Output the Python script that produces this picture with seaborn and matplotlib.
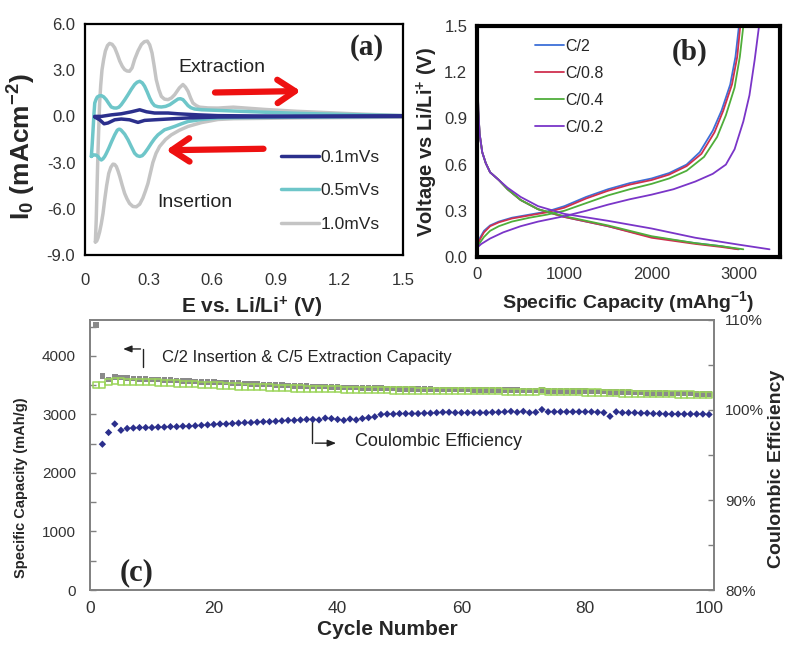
import numpy as np
import pandas as pd
import matplotlib
matplotlib.use('Agg')
import matplotlib.pyplot as plt
import seaborn as sns

sns.set_style('white')
plt.rcParams['font.family'] = ['Liberation Sans', 'DejaVu Sans']
plt.rcParams['mathtext.default'] = 'regular'

# ---------------- panel (a): cyclic voltammetry ----------------
scan_rates = ['0.1mVs', '0.5mVs', '1.0mVs']
cv_colors = ['#2b2f8c', '#6ec6c9', '#c4c4c4']

# extraction (upper) branches then insertion (lower) branches, E in V, I in mA/cm2
e_up_01 = [0.046, 0.077, 0.124, 0.171, 0.219, 0.258, 0.29, 0.328, 0.392, 0.439, 0.534, 0.627, 0.8, 1.0, 1.5]
i_up_01 = [0.0, 0.0, 0.1, 0.17, 0.3, 0.43, 0.3, 0.22, 0.22, 0.17, 0.1, 0.05, 0.03, 0.02, 0.02]
e_lo_01 = [1.5, 1.0, 0.627, 0.486, 0.392, 0.328, 0.281, 0.25, 0.21, 0.171, 0.14, 0.108, 0.09, 0.069, 0.046]
i_lo_01 = [0.0, -0.02, -0.04, -0.1, -0.17, -0.22, -0.26, -0.39, -0.22, -0.17, -0.22, -0.43, -0.48, -0.22, -0.04]

e_up_05 = [0.03, 0.034, 0.038, 0.042, 0.046, 0.052, 0.058, 0.067, 0.077, 0.088, 0.1, 0.112, 0.124, 0.136,
           0.148, 0.16, 0.171, 0.187, 0.203, 0.218, 0.234, 0.246, 0.258, 0.27, 0.281, 0.293, 0.305, 0.316,
           0.328, 0.344, 0.36, 0.38, 0.4, 0.425, 0.439, 0.45, 0.462, 0.474, 0.486, 0.5, 0.517, 0.55,
           0.627, 0.7, 0.85, 1.0, 1.25, 1.5]
i_up_05 = [-2.6, -1.8, -0.87, 0.1, 0.87, 1.1, 1.26, 1.33, 1.35, 1.27, 1.09, 0.84, 0.61, 0.55,
           0.54, 0.6, 0.76, 1.07, 1.41, 1.75, 2.07, 2.22, 2.28, 2.18, 1.96, 1.6, 1.2, 0.9,
           0.7, 0.63, 0.61, 0.65, 0.76, 1.0, 1.13, 1.15, 1.09, 0.9, 0.7, 0.56, 0.48, 0.43,
           0.39, 0.35, 0.27, 0.2, 0.12, 0.05]
e_lo_05 = [1.5, 1.0, 0.7, 0.627, 0.55, 0.486, 0.455, 0.423, 0.4, 0.375, 0.344, 0.328, 0.313, 0.297,
           0.281, 0.27, 0.258, 0.246, 0.234, 0.218, 0.203, 0.187, 0.171, 0.165, 0.16, 0.152, 0.14,
           0.126, 0.112, 0.1, 0.093, 0.085, 0.077, 0.069, 0.061, 0.053, 0.046, 0.038, 0.03]
i_lo_05 = [0.0, -0.05, -0.08, -0.1, -0.2, -0.33, -0.48, -0.65, -0.76, -0.87, -1.2, -1.45, -1.74, -2.08,
           -2.39, -2.55, -2.6, -2.55, -2.39, -1.95, -1.52, -1.15, -0.9, -0.84, -0.83, -0.9, -1.2,
           -1.62, -2.07, -2.42, -2.6, -2.75, -2.83, -2.75, -2.6, -2.52, -2.5, -2.52, -2.6]

e_up_10 = [0.049, 0.053, 0.057, 0.061, 0.065, 0.069, 0.074, 0.08, 0.088, 0.096, 0.106, 0.116, 0.128, 0.14,
           0.152, 0.164, 0.176, 0.187, 0.198, 0.21, 0.222, 0.234, 0.25, 0.266, 0.28, 0.294, 0.305, 0.316,
           0.326, 0.336, 0.348, 0.36, 0.375, 0.392, 0.408, 0.423, 0.445, 0.462, 0.474, 0.486, 0.498,
           0.509, 0.525, 0.54, 0.58, 0.627, 0.7, 0.85, 1.0, 1.25, 1.5]
i_up_10 = [-8.15, -6.7, -4.5, -2.4, -0.7, 0.87, 2.0, 3.0, 3.7, 4.24, 4.6, 4.74, 4.68, 4.46,
           4.05, 3.59, 3.25, 3.04, 2.95, 2.93, 3.15, 3.7, 4.25, 4.67, 4.85, 4.89, 4.65, 4.13,
           3.3, 2.39, 1.75, 1.3, 1.12, 1.09, 1.2, 1.41, 1.85, 2.07, 1.9, 1.63, 1.2,
           0.87, 0.7, 0.6, 0.55, 0.54, 0.6, 0.45, 0.33, 0.18, 0.05]
e_lo_10 = [1.5, 1.0, 0.7, 0.627, 0.55, 0.486, 0.445, 0.407, 0.38, 0.352, 0.335, 0.32, 0.308, 0.297,
           0.285, 0.273, 0.258, 0.242, 0.226, 0.21, 0.198, 0.187, 0.175, 0.164, 0.156, 0.148, 0.14,
           0.132, 0.122, 0.112, 0.102, 0.093, 0.085, 0.077, 0.069, 0.061, 0.055, 0.049]
i_lo_10 = [-0.05, -0.1, -0.15, -0.2, -0.4, -0.65, -0.9, -1.2, -1.5, -1.95, -2.4, -3.0, -3.7, -4.35,
           -4.85, -5.3, -5.7, -5.87, -5.85, -5.65, -5.35, -5.0, -4.45, -3.9, -3.55, -3.26, -3.12,
           -3.1, -3.3, -3.7, -4.5, -5.4, -6.3, -6.96, -7.5, -7.9, -8.1, -8.15]

# ---------------- panel (b): charge / discharge ----------------
rates = ['C/2', 'C/0.8', 'C/0.4', 'C/0.2']
rate_colors = ['#3d6fd8', '#d0304f', '#4fae3a', '#7a35c8']

dis_cap = [[0, 5, 15, 30, 60, 100, 150, 250, 350, 500, 700, 1000, 1500, 2000, 2500, 2800, 3000],
           [0, 5, 15, 30, 60, 100, 150, 250, 350, 500, 700, 1000, 1500, 2000, 2500, 2800, 2990],
           [0, 5, 15, 30, 60, 100, 150, 250, 350, 500, 700, 1000, 1500, 2000, 2500, 2800, 3050],
           [0, 5, 15, 30, 60, 100, 150, 250, 350, 500, 700, 1000, 1500, 2000, 2500, 3000, 3350]]
dis_v = [[1.5, 1.2, 0.95, 0.8, 0.68, 0.61, 0.55, 0.5, 0.44, 0.37, 0.31, 0.26, 0.2, 0.13, 0.09, 0.07, 0.05],
         [1.5, 1.2, 0.95, 0.8, 0.68, 0.61, 0.55, 0.5, 0.44, 0.37, 0.31, 0.26, 0.2, 0.125, 0.085, 0.065, 0.05],
         [1.5, 1.2, 0.95, 0.8, 0.68, 0.61, 0.55, 0.5, 0.44, 0.37, 0.31, 0.265, 0.205, 0.135, 0.09, 0.07, 0.05],
         [1.5, 1.2, 0.95, 0.8, 0.68, 0.61, 0.55, 0.5, 0.45, 0.39, 0.33, 0.28, 0.235, 0.185, 0.125, 0.08, 0.05]]
chg_cap = [[0, 30, 80, 150, 250, 400, 600, 800, 1000, 1250, 1500, 1750, 2000, 2200, 2400, 2550, 2700, 2800, 2900, 2960, 3000],
           [0, 30, 80, 150, 250, 400, 600, 800, 1000, 1250, 1500, 1750, 2000, 2200, 2400, 2570, 2720, 2820, 2920, 2980, 3015],
           [0, 30, 80, 150, 250, 400, 600, 800, 1000, 1250, 1500, 1750, 2000, 2200, 2400, 2600, 2750, 2850, 2950, 3010, 3050],
           [0, 50, 150, 300, 500, 700, 1000, 1250, 1500, 1750, 2000, 2250, 2500, 2700, 2850, 2950, 3050, 3120, 3180, 3230]]
chg_v = [[0.06, 0.12, 0.17, 0.205, 0.23, 0.255, 0.275, 0.295, 0.33, 0.39, 0.44, 0.48, 0.51, 0.545, 0.6, 0.68, 0.82, 0.95, 1.12, 1.3, 1.5],
         [0.06, 0.11, 0.16, 0.2, 0.225, 0.25, 0.27, 0.29, 0.32, 0.38, 0.43, 0.47, 0.5, 0.535, 0.59, 0.67, 0.81, 0.95, 1.12, 1.3, 1.5],
         [0.06, 0.09, 0.13, 0.17, 0.2, 0.23, 0.255, 0.275, 0.3, 0.35, 0.4, 0.44, 0.475, 0.51, 0.56, 0.65, 0.78, 0.92, 1.1, 1.3, 1.5],
         [0.06, 0.085, 0.12, 0.16, 0.2, 0.23, 0.265, 0.3, 0.34, 0.375, 0.405, 0.44, 0.49, 0.54, 0.6, 0.7, 0.88, 1.05, 1.28, 1.5]]

# ---------------- panel (c): cycling ----------------
cycles = list(range(1, 101))
insertion_cap = [4530, 3660, 3600, 3640, 3630, 3620, 3615, 3610, 3605, 3600,
                 3595, 3590, 3585, 3580, 3575, 3570, 3565, 3560, 3560, 3555,
                 3550, 3545, 3540, 3535, 3530, 3525, 3520, 3515, 3510, 3505,
                 3500, 3495, 3490, 3490, 3485, 3480, 3480, 3475, 3470, 3470,
                 3465, 3460, 3460, 3455, 3455, 3450, 3450, 3445, 3445, 3440,
                 3440, 3440, 3435, 3435, 3435, 3430, 3430, 3430, 3425, 3425,
                 3425, 3420, 3420, 3420, 3420, 3415, 3415, 3415, 3415, 3410,
                 3410, 3410, 3420, 3405, 3405, 3405, 3400, 3400, 3400, 3400,
                 3395, 3395, 3390, 3385, 3385, 3380, 3380, 3375, 3375, 3370,
                 3370, 3365, 3365, 3360, 3360, 3355, 3355, 3350, 3350, 3350]
extraction_cap = [3500, 3500, 3560, 3570, 3565, 3560, 3560, 3555, 3555, 3550,
                  3545, 3540, 3535, 3530, 3525, 3520, 3515, 3510, 3505, 3500,
                  3495, 3490, 3485, 3480, 3475, 3470, 3465, 3465, 3460, 3455,
                  3455, 3450, 3445, 3445, 3440, 3440, 3435, 3435, 3430, 3430,
                  3425, 3425, 3420, 3420, 3420, 3415, 3415, 3415, 3410, 3410,
                  3410, 3410, 3405, 3405, 3405, 3405, 3400, 3400, 3400, 3400,
                  3400, 3395, 3395, 3395, 3395, 3395, 3390, 3390, 3390, 3390,
                  3390, 3385, 3395, 3385, 3385, 3380, 3380, 3380, 3380, 3375,
                  3375, 3375, 3370, 3365, 3365, 3360, 3360, 3355, 3355, 3355,
                  3350, 3350, 3345, 3345, 3340, 3340, 3340, 3335, 3335, 3335]
ce_cycles = list(range(2, 101))
efficiency = [96.2, 97.5, 98.45, 97.75, 97.95, 98.0, 98.05, 98.05, 98.05,
              98.1, 98.1, 98.15, 98.15, 98.2, 98.2, 98.25, 98.3, 98.35, 98.4,
              98.45, 98.45, 98.5, 98.55, 98.6, 98.6, 98.65, 98.7, 98.7, 98.75,
              98.8, 98.85, 98.85, 98.9, 98.95, 98.95, 98.9, 99.1, 99.05, 98.95,
              98.85, 99.0, 98.9, 99.05, 99.15, 99.25, 99.5, 99.55, 99.55, 99.6,
              99.6, 99.6, 99.6, 99.65, 99.65, 99.7, 99.75, 99.75, 99.7, 99.7,
              99.7, 99.7, 99.7, 99.7, 99.75, 99.75, 99.8, 99.85, 99.75, 99.85,
              99.7, 99.75, 100.05, 99.8, 99.8, 99.8, 99.8, 99.8, 99.8, 99.8,
              99.8, 99.75, 99.7, 99.3, 99.8, 99.7, 99.7, 99.7, 99.65, 99.65,
              99.6, 99.6, 99.55, 99.55, 99.55, 99.55, 99.55, 99.55, 99.55, 99.5]

W, H = 790, 647
fig = plt.figure(figsize=(W / 100, H / 100), dpi=100)


def box(l, t, r, b):
    return [l / W, 1 - b / H, (r - l) / W, (b - t) / H]


tick_col = '#333333'
arrow_red = '->,head_length=0.9,head_width=0.6'

# ---- (a)
ax1 = fig.add_axes(box(85, 24, 403, 255))
cv = [(e_up_01, i_up_01, e_lo_01, i_lo_01),
      (e_up_05, i_up_05, e_lo_05, i_lo_05),
      (e_up_10, i_up_10, e_lo_10, i_lo_10)]
for k in [2, 1, 0]:
    eu, iu, el, il = cv[k]
    df = pd.DataFrame({'E': eu + el, 'I': iu + il})
    sns.lineplot(data=df, x='E', y='I', sort=False, estimator=None, color=cv_colors[k],
                 lw=2.5, ax=ax1, label=scan_rates[k])
for ln in ax1.lines:
    ln.set_solid_joinstyle('round')
h, l = ax1.get_legend_handles_labels()
ax1.legend(h[::-1], l[::-1], loc='upper left', bbox_to_anchor=(0.615, 0.455), frameon=False,
           fontsize=12.5, handlelength=2.2, handletextpad=0.1, labelspacing=1.05,
           borderpad=0, borderaxespad=0)
ax1.set_xlim(0, 1.5)
ax1.set_ylim(-9, 6)
ax1.set_xticks([0, 0.3, 0.6, 0.9, 1.2, 1.5])
ax1.set_xticklabels(['0', '0.3', '0.6', '0.9', '1.2', '1.5'])
ax1.set_yticks([6, 3, 0, -3, -6, -9])
ax1.set_yticklabels(['6.0', '3.0', '0.0', '-3.0', '-6.0', '-9.0'])
ax1.tick_params(axis='x', direction='in', length=5, width=1.2, labelsize=12, labelcolor=tick_col, pad=13)
ax1.tick_params(axis='y', direction='inout', length=8, width=1.2, labelsize=12, labelcolor=tick_col, pad=3)
for s in ax1.spines.values():
    s.set_color('black')
    s.set_linewidth(1.6)
ax1.set_xlabel('E vs. Li/Li$^{+}$ (V)', fontsize=15, fontweight='bold', labelpad=0)
ax1.xaxis.set_label_coords(0.525, -0.17)
ax1.set_ylabel('I$_0$ (mAcm$^{-2}$)', fontsize=19, fontweight='bold')
ax1.yaxis.set_label_coords(-0.148, 0.47)
ax1.text(0.44, 3.15, 'Extraction', fontsize=14, va='center', color='#222222')
ax1.text(0.34, -5.6, 'Insertion', fontsize=14, va='center', color='#222222')
ax1.annotate('', xy=(1.03, 1.65), xytext=(0.6, 1.55),
             arrowprops=dict(arrowstyle=arrow_red, color='#ee1111', lw=4.5, capstyle='round',
                             mutation_scale=14))
ax1.annotate('', xy=(0.37, -2.2), xytext=(0.855, -2.1),
             arrowprops=dict(arrowstyle=arrow_red, color='#ee1111', lw=4.5, capstyle='round',
                             mutation_scale=14))
ax1.text(1.33, 4.45, '(a)', fontsize=21, fontweight='bold', family='Liberation Serif',
         ha='center', va='center')

# ---- (b)
ax2 = fig.add_axes(box(477, 26, 780, 257))
for k in range(4):
    dfd = pd.DataFrame({'cap': dis_cap[k], 'V': dis_v[k]})
    dfc = pd.DataFrame({'cap': chg_cap[k], 'V': chg_v[k]})
    sns.lineplot(data=dfd, x='cap', y='V', sort=False, estimator=None, color=rate_colors[k],
                 lw=1.3, ax=ax2, label=rates[k])
    sns.lineplot(data=dfc, x='cap', y='V', sort=False, estimator=None, color=rate_colors[k],
                 lw=1.3, ax=ax2)
ax2.legend(loc='upper left', bbox_to_anchor=(0.19, 0.945), frameon=False, fontsize=11.5,
           handlelength=1.85, handletextpad=0.05, labelspacing=0.75, borderpad=0, borderaxespad=0)
ax2.set_xlim(0, 3470)
ax2.set_ylim(0, 1.5)
ax2.set_xticks([0, 1000, 2000, 3000])
ax2.set_yticks([0, 0.3, 0.6, 0.9, 1.2, 1.5])
ax2.set_yticklabels(['0.0', '0.3', '0.6', '0.9', '1.2', '1.5'])
ax2.tick_params(direction='in', length=0, labelsize=12, labelcolor=tick_col, pad=7)
for s in ax2.spines.values():
    s.set_color('black')
    s.set_linewidth(3)
ax2.set_xlabel('Specific Capacity (mAhg$^{-1}$)', fontsize=14, fontweight='bold', labelpad=5)
ax2.set_ylabel('Voltage vs Li/Li$^{+}$ (V)', fontsize=14.5, fontweight='bold', labelpad=3)
ax2.text(2440, 1.33, '(b)', fontsize=21, fontweight='bold', family='Liberation Serif',
         ha='center', va='center')

# ---- (c)
ax3 = fig.add_axes(box(90, 320, 714, 590))
cap_df = pd.DataFrame({'cycle': cycles, 'ins': insertion_cap, 'ext': extraction_cap})
sns.scatterplot(data=cap_df, x='cycle', y='ins', marker='s', s=16, color='#8a8a8a',
                edgecolor='none', ax=ax3, zorder=3)
sns.scatterplot(data=cap_df, x='cycle', y='ext', marker='s', s=20, facecolor='none',
                edgecolor='#9bd45a', linewidth=1.1, ax=ax3, zorder=4)
ax3.set_xlim(0, 100.8)
ax3.set_ylim(0, 4615)
ax3.set_yticks(np.arange(0, 4501, 500))
ax3.set_yticklabels(['0', '', '1000', '', '2000', '', '3000', '', '4000', ''])
ax3.set_xticks([0, 20, 40, 60, 80, 100])
ax3.tick_params(axis='x', direction='in', length=4, width=1, color='#808080', labelsize=12.5,
                labelcolor=tick_col, pad=8)
ax3.tick_params(axis='y', direction='in', length=4, width=1, color='#808080', labelsize=11,
                labelcolor=tick_col, pad=10)
for s in ax3.spines.values():
    s.set_color('#808080')
    s.set_linewidth(1.2)
ax3.set_xlabel('Cycle Number', fontsize=15, fontweight='bold')
ax3.xaxis.set_label_coords(0.476, -0.11)
ax3.set_ylabel('Specific Capacity (mAh/g)', fontsize=10.5, fontweight='bold')
ax3.yaxis.set_label_coords(-0.1, 0.38)

ax4 = ax3.twinx()
ce_df = pd.DataFrame({'cycle': ce_cycles, 'ce': efficiency})
sns.scatterplot(data=ce_df, x='cycle', y='ce', marker='D', s=14, color='#2b2f8c',
                edgecolor='none', ax=ax4, zorder=3)
ax4.set_ylim(80, 109.8)
ax4.set_yticks([80, 85, 90, 95, 100, 105, 110])
ax4.set_yticklabels(['80%', '', '90%', '', '100%', '', '110%'])
ax4.tick_params(axis='y', direction='in', length=4, width=1, color='#808080', labelsize=11,
                labelcolor=tick_col, pad=8)
ax4.set_ylabel('Coulombic Efficiency', fontsize=14, fontweight='bold')
ax4.yaxis.set_label_coords(1.086, 0.45)
for s in ax4.spines.values():
    s.set_color('#808080')
    s.set_linewidth(1.2)

# annotations with bracket arrows
ax3.text(11.6, 3980, 'C/2 Insertion & C/5 Extraction Capacity', fontsize=12, va='center',
         color='#222222')
ax3.plot([8.6, 8.6], [3810, 4120], color='#222222', lw=1)
ax3.annotate('', xy=(4.9, 4120), xytext=(8.6, 4120),
             arrowprops=dict(arrowstyle='-|>,head_length=0.5,head_width=0.2', color='#222222', lw=1))
ax3.text(42.8, 2530, 'Coulombic Efficiency', fontsize=13, va='center', color='#222222')
ax3.plot([35.9, 35.9], [2920, 2510], color='#222222', lw=1)
ax3.annotate('', xy=(40.2, 2510), xytext=(35.9, 2510),
             arrowprops=dict(arrowstyle='-|>,head_length=0.5,head_width=0.2', color='#222222', lw=1))
ax3.text(7.5, 290, '(c)', fontsize=22, fontweight='bold', family='Liberation Serif',
         ha='center', va='center')

fig.savefig('out.png', dpi=100)
